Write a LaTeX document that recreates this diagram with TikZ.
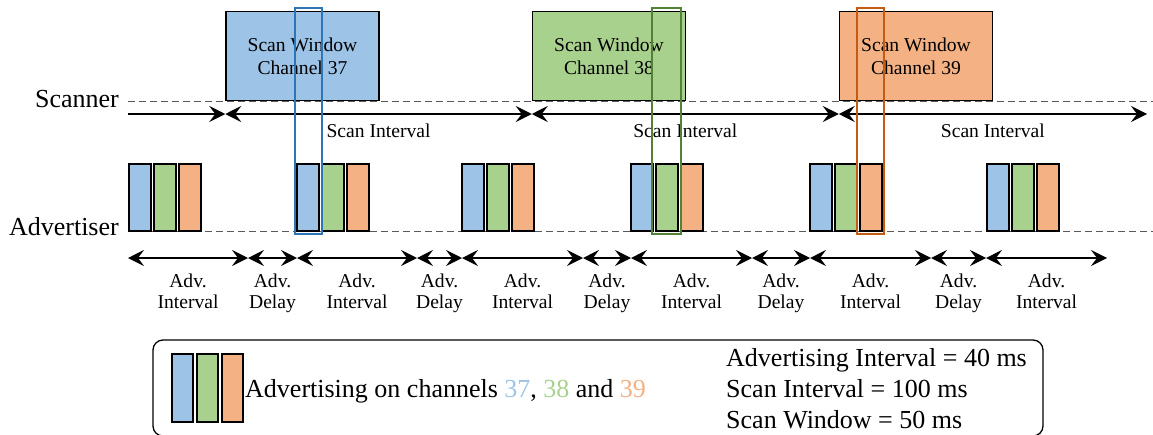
\documentclass[tikz,border=0pt]{standalone}
\usepackage{fontspec}
\setmainfont{Liberation Serif}
\usetikzlibrary{arrows.meta}

\definecolor{ch37}{HTML}{9DC3E6}
\definecolor{ch38}{HTML}{A9D18E}
\definecolor{ch39}{HTML}{F4B183}
\definecolor{hl37}{HTML}{2E75B6}
\definecolor{hl38}{HTML}{538135}
\definecolor{hl39}{HTML}{C55A11}

\begin{document}
\begin{tikzpicture}[x=1pt, y=-1pt, >={Stealth[length=16pt,width=16pt,inset=6pt]},
    window/.style={draw, line width=1.5pt, minimum width=153pt, minimum height=89pt,
        inner sep=0pt, align=center, font=\fontsize{19.6}{23}\selectfont},
    pkt/.style={draw, line width=1.5pt, minimum width=22pt, minimum height=67pt, inner sep=0pt},
    timeline/.style={black!65, line width=1pt, dash pattern=on 7pt off 4pt},
    scanarrow/.style={line width=1.8pt},
    advarrow/.style={line width=1.6pt},
    hlbox/.style={line width=1.3pt},
    biglabel/.style={font=\fontsize{26}{31}\selectfont}]
    \useasboundingbox (0,0) rectangle (1153,434);

    \draw[timeline] (128,101) -- (1153,101);
    \draw[timeline] (128,231) -- (1153,231);
    \node[biglabel, anchor=base east, inner sep=0pt] (scanner) at (119,107) {Scanner};
    \node[biglabel, anchor=base east, inner sep=0pt] (advertiser) at (119,235) {Advertiser};

    \node[window, fill=ch37] (w37) at (302.5,56) {Scan Window\\Channel 37};
    \node[window, fill=ch38] (w38) at (609,56) {Scan Window\\Channel 38};
    \node[window, fill=ch39] (w39) at (916,56) {Scan Window\\Channel 39};

    \coordinate (s0) at (128,114);
    \coordinate (s1) at (w37.south west |- s0);
    \coordinate (s2) at (w38.south west |- s0);
    \coordinate (s3) at (w39.south west |- s0);
    \coordinate (s4) at (1147,114);
    \draw[scanarrow, ->] (s0) -- (s1);
    \foreach \a/\b in {1/2, 2/3, 3/4} {
        \draw[scanarrow, <->] (s\a) -- (s\b)
            node[midway, anchor=base, yshift=-23pt, font=\fontsize{19.6}{23}\selectfont] (si\a) {Scan Interval};
    }

    \foreach \x in {129,297,462,631,810,987} {
        \node[pkt, fill=ch37] (b\x) at (\x+11,197.5) {};
        \node[pkt, fill=ch38] (g\x) at (\x+36,197.5) {};
        \node[pkt, fill=ch39] (o\x) at (\x+61,197.5) {};
    }

    \foreach \t [count=\i] in {128,248,297,417,462,583,631,752,810,931,986,1107}
        \coordinate (t\i) at (\t,258);
    \foreach \a/\b/\lbl in {1/2/Interval, 2/3/Delay, 3/4/Interval, 4/5/Delay, 5/6/Interval,
        6/7/Delay, 7/8/Interval, 8/9/Delay, 9/10/Interval, 10/11/Delay, 11/12/Interval} {
        \draw[advarrow, <->] (t\a) -- (t\b)
            node[midway, anchor=north, yshift=-15pt, inner sep=0pt, align=center,
                font=\fontsize{19.6}{21}\selectfont] (al\a) {Adv.\\\lbl};
    }

    \draw[hlbox, draw=hl37] (295,8) rectangle (322,234);
    \draw[hlbox, draw=hl38] (652,8) rectangle (681,234);
    \draw[hlbox, draw=hl39] (857,8) rectangle (884,234);

    \node[draw, line width=1.3pt, rounded corners=10pt, minimum width=890pt,
        minimum height=96pt, inner sep=0pt] (legend) at (598,388) {};
    \node[pkt, fill=ch37, minimum width=21pt, minimum height=68pt] (lb) at (182.5,388) {};
    \node[pkt, fill=ch38, minimum width=21pt, minimum height=68pt] (lg) at (207.5,388) {};
    \node[pkt, fill=ch39, minimum width=21pt, minimum height=68pt] (lo) at (232.5,388) {};
    \node[biglabel, anchor=base west, inner sep=0pt] (ltext) at (245,397)
        {Advertising on channels \textcolor{ch37}{37}, \textcolor{ch38}{38} and \textcolor{ch39}{39}};
    \node[biglabel, anchor=base west, inner sep=0pt] (lint) at (726,366) {Advertising Interval = 40 ms};
    \node[biglabel, anchor=base west, inner sep=0pt] (lscan) at (726,397) {Scan Interval = 100 ms};
    \node[biglabel, anchor=base west, inner sep=0pt] (lwin) at (726,428) {Scan Window = 50 ms};
\end{tikzpicture}
\end{document}
